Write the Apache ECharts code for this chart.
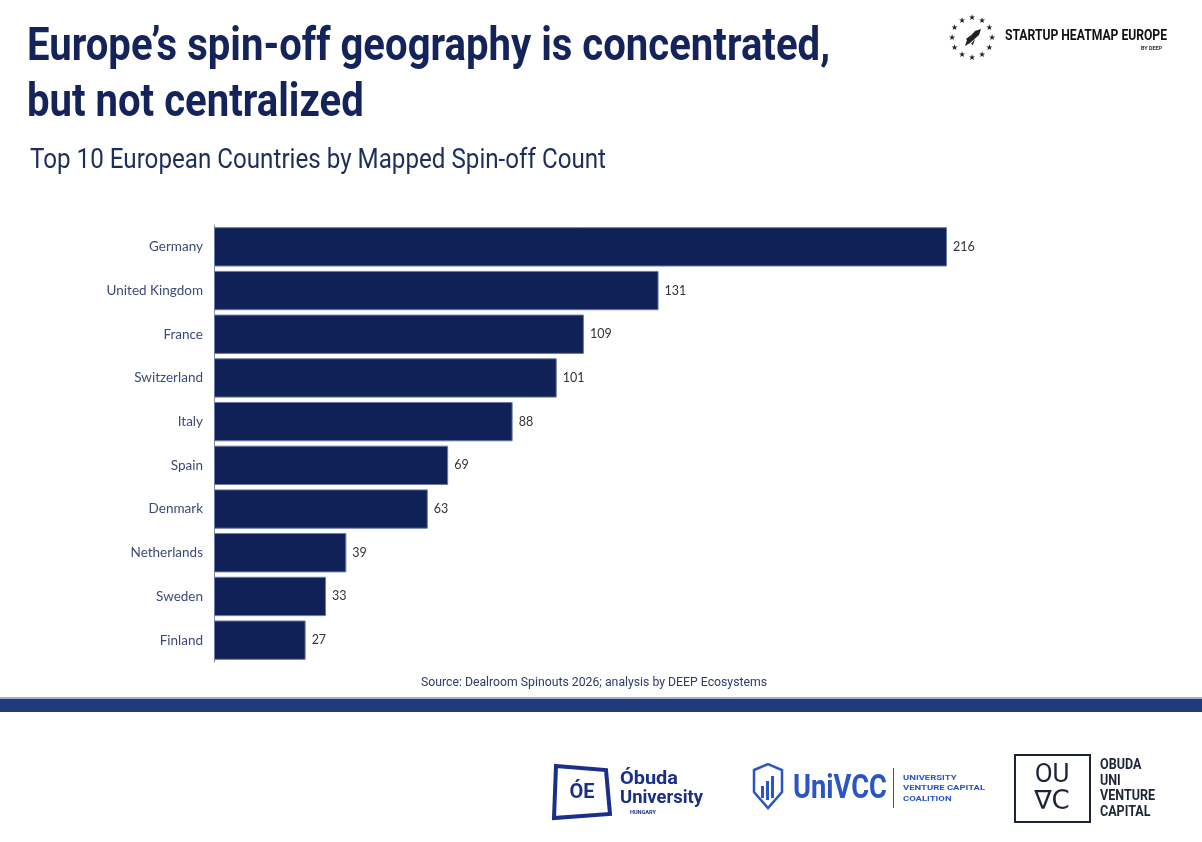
<!DOCTYPE html>
<html><head><meta charset="utf-8">
<script src="https://cdn.jsdelivr.net/npm/echarts@6/dist/echarts.min.js"></script>
<style>html,body{margin:0;padding:0;background:#fff}#c{width:1202px;height:842px}</style>
</head><body><div id="c"></div>
<script>
const categories = ['Germany','United Kingdom','France','Switzerland','Italy','Spain','Denmark','Netherlands','Sweden','Finland'];
const spinoffCounts = [216,131,109,101,88,69,63,39,33,27];
const titleLines = ['Europe\u2019s spin-off geography is concentrated,', 'but not centralized'];
const subtitleText = 'Top 10 European Countries by Mapped Spin-off Count';
const sourceText = 'Source: Dealroom Spinouts 2026; analysis by DEEP Ecosystems';

const chart = echarts.init(document.getElementById('c'), null, {renderer:'canvas'});
const navy = '#0f2157';
const mctx = document.createElement('canvas').getContext('2d');
function measure(str, font) {
  mctx.font = font;
  return Math.max(...str.split('\n').map(s => mctx.measureText(s).width));
}
// text compressed horizontally to a target width (decoration only)
function fitText(str, x, y, font, targetW, fill, extra) {
  const sx = targetW / measure(str, font);
  return {type:'text', x:x, y:y, scaleX:sx, style:Object.assign({text:str, x:0, y:0, font:font, fill:fill, verticalAlign:'middle'}, extra || {})};
}

const titleFont = 'bold 46px Roboto';
const titleScale = 803 / measure(titleLines[0], titleFont);

const stars = [];
for (let i = 0; i < 12; i++) {
  const a = i / 12 * Math.PI * 2;
  stars.push({type:'text', style:{text:'\u2605', x:972 + 20*Math.cos(a), y:38 + 20*Math.sin(a), fill:'#222', font:'8px DejaVu Sans', align:'center', verticalAlign:'middle'}});
}

chart.setOption({
  backgroundColor:'#fff',
  animation:false,
  grid:{left:214, top:225, width:733, height:437, containLabel:false},
  xAxis:{type:'value', min:0, max:216, show:false},
  yAxis:{type:'category', data:categories, inverse:true,
    axisLine:{show:true, lineStyle:{color:'#7f8bb0', width:1}},
    axisTick:{show:false},
    axisLabel:{color:'#3b4a78', fontSize:13.5, fontFamily:'Lato, "Open Sans", sans-serif', margin:11}},
  series:[{type:'bar', data:spinoffCounts, barCategoryGap:'10%',
    itemStyle:{color:navy, borderColor:'#6b7aa6', borderWidth:1},
    label:{show:true, position:'right', distance:6, color:'#333', fontSize:12.5, fontFamily:'Lato, "Open Sans", sans-serif'}}],
  graphic:[
    {type:'text', x:27, y:48, scaleX:titleScale, style:{text:titleLines[0], x:0, y:0, font:titleFont, fill:'#142359', verticalAlign:'middle'}},
    {type:'text', x:27, y:104, scaleX:titleScale, style:{text:titleLines[1], x:0, y:0, font:titleFont, fill:'#142359', verticalAlign:'middle'}},
    fitText(subtitleText, 30, 161, '28px Roboto', 576, '#1c2d5e'),
    fitText(sourceText, 421, 683, '12.5px Roboto', 346, '#2c3a66'),
    {type:'rect', shape:{x:0, y:697, width:1202, height:2}, style:{fill:'#9fb0d6'}},
    {type:'rect', shape:{x:0, y:699, width:1202, height:13}, style:{fill:'#1e3a7b'}},
    // header logo
    ...stars,
    {type:'polygon', shape:{points:[[965,46],[967,40],[975,31],[981,29],[979,35],[970,43]]}, style:{fill:'#222'}},
    {type:'polygon', shape:{points:[[966,39],[971,35],[968,41]]}, style:{fill:'#222'}},
    {type:'polygon', shape:{points:[[971,44],[975,39],[973,45]]}, style:{fill:'#222'}},
    fitText('STARTUP HEATMAP EUROPE', 1005, 36, 'bold 15px Roboto', 162, '#111'),
    fitText('BY DEEP', 1141, 48, 'bold 6px Roboto', 21, '#333'),
    // Obuda University logo
    {type:'polygon', shape:{points:[[556,766],[606,770],[610,814],[554,818]]}, style:{fill:'none', stroke:'#1a2f8a', lineWidth:4}},
    {type:'text', style:{text:'\u00d3E', x:582, y:793, align:'center', verticalAlign:'middle', fill:'#1a2f8a', font:'bold 20px Roboto'}},
    fitText('\u00d3buda', 620, 779, 'bold 19px Roboto', 58, '#1a2f8a'),
    fitText('University', 620, 798, 'bold 19px Roboto', 83, '#1a2f8a'),
    fitText('HUNGARY', 630, 813, 'bold 5px Roboto', 26, '#1a2f8a'),
    // UniVCC logo
    {type:'polygon', shape:{points:[[754,770],[768,764],[782,770],[782,792],[768,808],[754,792]]}, style:{fill:'none', stroke:'#2a55c4', lineWidth:2.5}},
    {type:'rect', shape:{x:761, y:786, width:3, height:12}, style:{fill:'#2a55c4'}},
    {type:'rect', shape:{x:766, y:781, width:3, height:19}, style:{fill:'#2a55c4'}},
    {type:'rect', shape:{x:771, y:776, width:3, height:22}, style:{fill:'#2a55c4'}},
    fitText('UniVCC', 793, 789, 'bold 34px Roboto', 94, '#2a55c4'),
    {type:'rect', shape:{x:893, y:768, width:1, height:40}, style:{fill:'#2a55c4'}},
    fitText('UNIVERSITY\nVENTURE CAPITAL\nCOALITION', 903, 788, 'bold 8px Roboto', 82, '#2a55c4', {lineHeight:10.5}),
    // OUVC logo
    {type:'rect', shape:{x:1015, y:755, width:75, height:67}, style:{fill:'none', stroke:'#1c2437', lineWidth:2}},
    {type:'text', style:{text:'OU', x:1052, y:775, align:'center', verticalAlign:'middle', fill:'#1c2437', font:'26px Roboto'}},
    {type:'text', style:{text:'\u2207C', x:1052, y:802, align:'center', verticalAlign:'middle', fill:'#1c2437', font:'26px "DejaVu Sans"'}},
    fitText('OBUDA\nUNI\nVENTURE\nCAPITAL', 1100, 789, 'bold 14px Roboto', 55, '#1c2437', {lineHeight:15.5})
  ]
});
</script></body></html>
